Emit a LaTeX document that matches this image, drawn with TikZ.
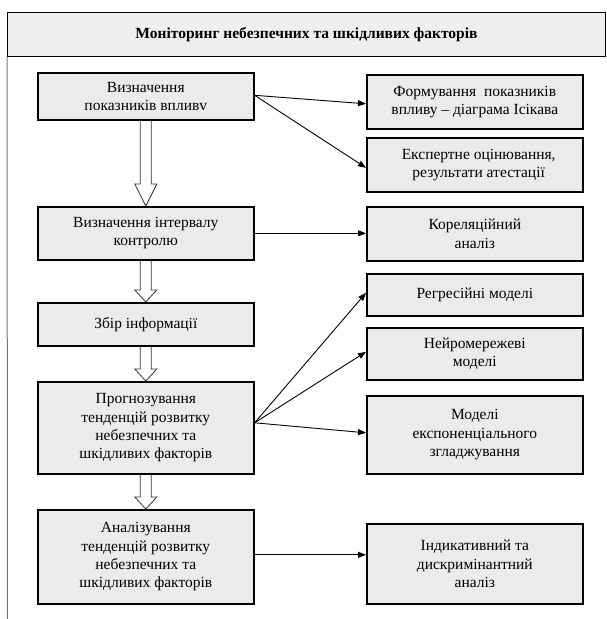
\documentclass[tikz,border=0pt]{standalone}
\usepackage{fontspec}
\setmainfont{Liberation Serif}
\usetikzlibrary{arrows.meta,calc}
\definecolor{boxgray}{RGB}{235,235,235}
\definecolor{headgray}{RGB}{239,239,239}
\definecolor{framegray}{RGB}{120,120,120}
\newcommand{\hollowdown}[3]{%
  \draw[hollowarr] let \p1=(#1.south), \p2=(#2.north) in
    (\x1-5.5pt,\y1) -- (\x1-5.5pt,\y2+#3) -- (\x1-11pt,\y2+#3) -- (\x1,\y2)
    -- (\x1+11pt,\y2+#3) -- (\x1+5.5pt,\y2+#3) -- (\x1+5.5pt,\y1);}
\begin{document}
\begin{tikzpicture}[x=1pt,y=-1pt,
  bx/.style={draw=black, line width=1.6pt, fill=boxgray, align=center,
    inner sep=0pt, anchor=north west, minimum width=216pt,
    font=\fontsize{15.5}{18.3}\selectfont},
  conn/.style={-{Triangle[length=8pt,width=6pt]}, line width=0.9pt},
  hollowarr/.style={draw=black!80, line width=0.8pt, line join=miter}]
\useasboundingbox (0,0) rectangle (607,619);
% header and frame
\node[draw=black, line width=1pt, fill=headgray, anchor=north west,
  minimum width=598pt, minimum height=44pt, inner sep=0pt,
  font=\fontsize{15.5}{18}\selectfont\bfseries] (hdr) at (7,12)
  {Моніторинг небезпечних та шкідливих факторів};
\coordinate (lb) at (7.5,619);
\draw[framegray, line width=1pt] (hdr.south west) -- (lb);
% left column
\node[bx, minimum height=47pt] (b1) at (37,72) {Визначення\\показників впливv};
\node[bx, minimum height=53pt] (b2) at (37,206) {Визначення інтервалу\\контролю};
\node[bx, minimum height=43pt] (b3) at (37,302) {Збір інформації};
\node[bx, minimum height=92pt] (b4) at (37,381) {Прогнозування\\тенденцій розвитку\\небезпечних та\\шкідливих факторів};
\node[bx, minimum height=94pt] (b5) at (37,509) {Аналізування\\тенденцій розвитку\\небезпечних та\\шкідливих факторів};
% right column
\node[bx, minimum height=54pt] (r1) at (366,74) {Формування\ \ показників\\впливу – діаграма Ісікава};
\node[bx, minimum height=54pt] (r2) at (366,137) {\ \ Експертне оцінювання,\\\ \ результати атестації};
\node[bx, minimum height=54pt] (r3) at (366,206) {Кореляційний\\аналіз};
\node[bx, minimum height=42pt] (r4) at (366,273) {Регресійні моделі};
\node[bx, minimum height=52pt] (r5) at (366,327) {Нейромережеві\\моделі};
\node[bx, minimum height=78pt] (r6) at (366,395) {Моделі\\експоненціального\\згладжування};
\node[bx, minimum height=80pt] (r7) at (366,523) {Індикативний та\\дискримінантний\\аналіз};
% hollow arrows
\hollowdown{b1}{b2}{22pt}
\hollowdown{b2}{b3}{12pt}
\hollowdown{b3}{b4}{12pt}
\hollowdown{b4}{b5}{12pt}
% connectors
\draw[conn] ([yshift=1pt]b1.east) -- ([yshift=-2pt]r1.west);
\draw[conn] ([yshift=1pt]b1.east) -- ([yshift=-3pt]r2.west);
\draw[conn] (b2.east) -- (b2.east -| r3.west);
\draw[conn] ([yshift=5pt]b4.east) -- ([yshift=2pt]r4.west);
\draw[conn] ([yshift=5pt]b4.east) -- ([yshift=2pt]r5.west);
\draw[conn] ([yshift=5pt]b4.east) -- ([yshift=2pt]r6.west);
\draw[conn] ([yshift=2pt]b5.east) -- ([yshift=2pt]b5.east -| r7.west);
\end{tikzpicture}
\end{document}
